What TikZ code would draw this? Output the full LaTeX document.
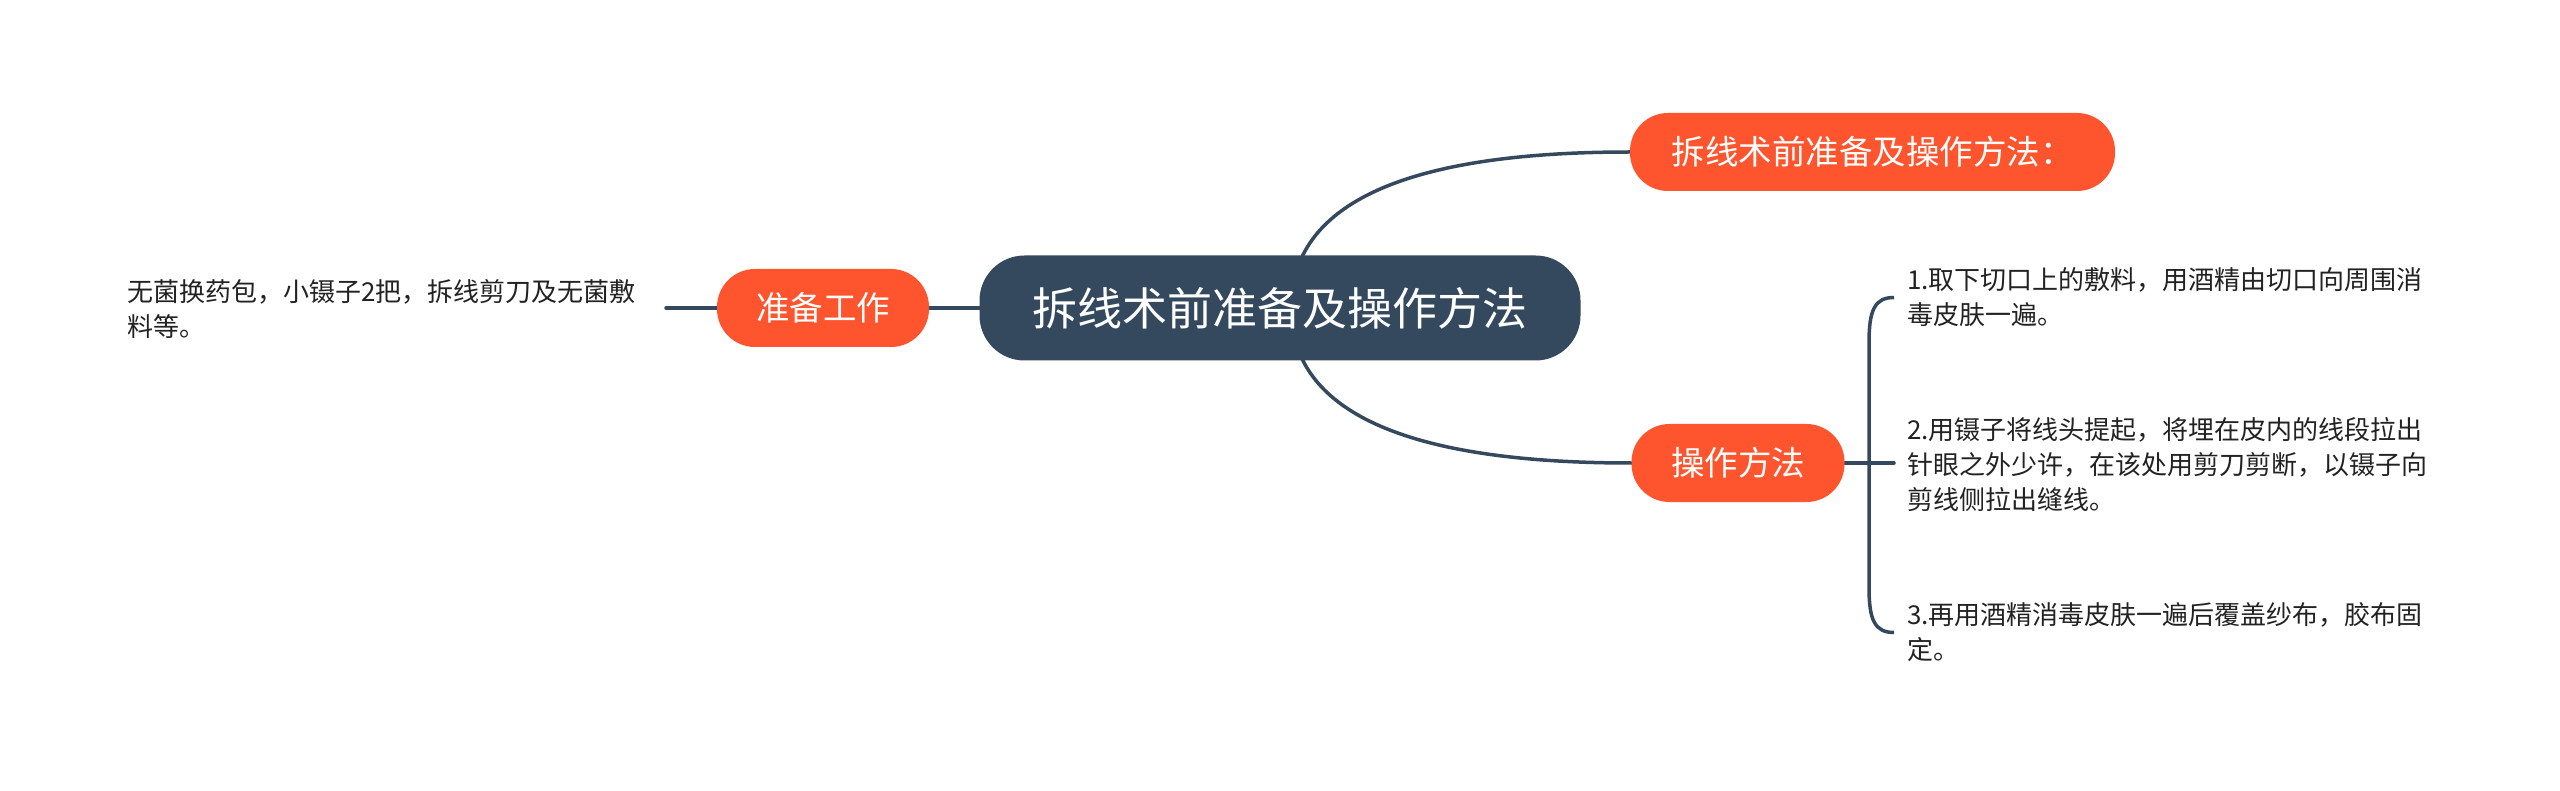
\documentclass[tikz,border=0pt]{standalone}
\usepackage{fontspec}
\setmainfont{Noto Sans CJK SC}
\usetikzlibrary{calc,backgrounds}
\definecolor{darkslate}{HTML}{34495E}
\definecolor{orangered}{HTML}{FE552E}
\definecolor{bodytext}{HTML}{222222}
\tikzset{
  central/.style={fill=darkslate, text=white, rounded corners=45pt, inner sep=0pt,
    minimum width=601pt, minimum height=105pt, font=\fontsize{45}{54}\selectfont},
  branch/.style={fill=orangered, text=white, rounded corners=38pt, inner sep=0pt,
    minimum height=78pt, font=\fontsize{33.5}{40}\selectfont},
  leaftext/.style={text=bodytext, inner sep=0pt, align=left, anchor=west,
    font=\fontsize{26}{35}\selectfont},
  link/.style={draw=darkslate, line width=3.5pt, line cap=round}
}
\begin{document}
\begin{tikzpicture}[x=1pt,y=-1pt]
\useasboundingbox (0,0) rectangle (2560,791);
% nodes
\node[central] (c) at (1280,308) {拆线术前准备及操作方法};
\node[branch, minimum width=212pt] (p) at (823,308) {准备工作};
\node[branch, minimum width=485pt] (t) at (1872.5,152) {拆线术前准备及操作方法：};
\node[branch, minimum width=213pt] (o) at (1738,463) {操作方法};
\node[leaftext] (l) at (127,309) {无菌换药包，小镊子2把，拆线剪刀及无菌敷\\料等。};
\node[leaftext] (i1) at (1907,297.5) {1.取下切口上的敷料，用酒精由切口向周围消\\毒皮肤一遍。};
\node[leaftext] (i2) at (1907,465) {2.用镊子将线头提起，将埋在皮内的线段拉出\\针眼之外少许，在该处用剪刀剪断，以镊子向\\剪线侧拉出缝线。};
\node[leaftext] (i3) at (1907,632.5) {3.再用酒精消毒皮肤一遍后覆盖纱布，胶布固\\定。};
% helper coordinates
\coordinate (cs) at ($(c.center)+(11,0)$);
\coordinate (lj) at (666,308);
\coordinate (e1) at (1894,297.5);
\coordinate (e2) at (1894,463);
\coordinate (e3) at (1894,632.5);
\coordinate (hx) at (1869,463);
\begin{scope}[on background layer]
  \fill[white] (0,0) rectangle (2560,791);
  \draw[link] (lj) -- (p.west);
  \draw[link] (p.east) -- (c.west);
  \draw[link] (cs) .. controls ($(cs)!2/3!(cs |- t.west)$) and ($(t.west)!2/3!(cs |- t.west)$) .. (t.west);
  \draw[link] (cs) .. controls ($(cs)!2/3!(cs |- o.west)$) and ($(o.west)!2/3!(cs |- o.west)$) .. (o.west);
  \draw[link] (o.east) -- (e2);
  \draw[link, line cap=butt] (e1) .. controls ($(hx |- e1)+(6,0)$) and ($(hx |- e1)+(0,12)$) .. ($(hx |- e1)+(0,45)$)
     -- ($(hx |- e3)+(0,-45)$) .. controls ($(hx |- e3)+(0,-12)$) and ($(hx |- e3)+(6,0)$) .. (e3);
\end{scope}
\end{tikzpicture}
\end{document}
